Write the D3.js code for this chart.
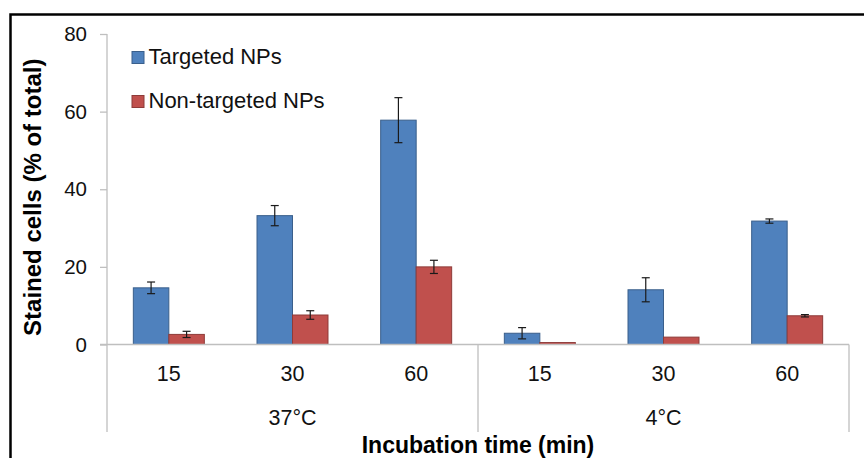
<!DOCTYPE html>
<html>
<head>
<meta charset="utf-8">
<script src="https://d3js.org/d3.v7.min.js"></script>
<style>
  body { margin: 0; background: #fff; }
  svg { display: block; font-family: Arial, "Liberation Sans", sans-serif; }
</style>
</head>
<body>
<div id="chart"></div>
<script>
// data
var groups = ["37°C", "4°C"];
var times = ["15", "30", "60"];
var seriesNames = ["Targeted NPs", "Non-targeted NPs"];
var targeted = [14.6, 33.2, 57.8, 2.9, 14.1, 31.8];
var targetedErr = [1.5, 2.6, 5.8, 1.45, 3.1, 0.55];
var nonTargeted = [2.6, 7.6, 20.0, 0.5, 1.9, 7.4];
var nonTargetedErr = [0.8, 1.1, 1.7, 0, 0, 0.3];
var yTicks = [0, 20, 40, 60, 80];

function BarChart(id){
    var self = this;
    self.sectionId = id;
    self.initVis();
}

BarChart.prototype.initVis = function(){
    var self = this;

    self.svgWidth = 864;
    self.svgHeight = 458;
    self.margin = { top: 34, right: 15, bottom: 113.5, left: 107 };

    self.svg = d3.select(`#${self.sectionId}`)
        .append("svg")
        .attr("width", self.svgWidth)
        .attr("height", self.svgHeight);

    // outer frame (cut off at right and bottom, like the picture)
    self.svg.append("rect")
        .attr("x", 10.5).attr("y", 14.5)
        .attr("width", 1000).attr("height", 1000)
        .attr("fill", "none")
        .attr("stroke", "#000")
        .attr("stroke-width", 2.5);

    var left = self.margin.left;
    var right = self.svgWidth - self.margin.right;
    var top = self.margin.top;
    var bottom = self.svgHeight - self.margin.bottom;

    // one row per bar cluster
    var rows = [];
    groups.forEach(function(g, gi){
        times.forEach(function(t, ti){
            var i = gi * times.length + ti;
            rows.push({ key: g + "|" + t, group: g, time: t,
                values: [ { s: 0, v: targeted[i], e: targetedErr[i] },
                          { s: 1, v: nonTargeted[i], e: nonTargetedErr[i] } ] });
        });
    });

    self.x0 = d3.scaleBand()
        .domain(rows.map(function(d){ return d.key; }))
        .range([left, right]);

    self.x1 = d3.scaleBand()
        .domain([0, 1])
        .range([0, self.x0.bandwidth()])
        .paddingOuter(0.742);

    self.y = d3.scaleLinear()
        .domain([0, 80])
        .range([bottom, top]);

    self.color = d3.scaleOrdinal().domain([0, 1]).range(["#4f81bd", "#c0504d"]);
    self.stroke = d3.scaleOrdinal().domain([0, 1]).range(["#3a5f8b", "#8e3b39"]);

    var axisColor = "#bfbfbf";
    var sepBottom = 432;

    // y axis
    var yAxis = self.svg.append("g")
        .attr("transform", `translate(${left},0)`)
        .call(d3.axisLeft(self.y).tickValues(yTicks).tickSize(7).tickPadding(13));
    yAxis.select(".domain").remove();
    yAxis.selectAll("line").attr("stroke", axisColor).attr("stroke-width", 1.3);
    yAxis.selectAll("text")
        .attr("font-size", 20.5)
        .attr("fill", "#111")
        .attr("font-family", "Arial, 'Liberation Sans', sans-serif");

    self.svg.append("line")
        .attr("x1", left).attr("x2", left)
        .attr("y1", self.y(80)).attr("y2", sepBottom)
        .attr("stroke", axisColor).attr("stroke-width", 1.3);

    // bars
    var cluster = self.svg.selectAll(".cluster")
        .data(rows)
        .join("g")
        .attr("class", "cluster")
        .attr("transform", function(d){ return `translate(${self.x0(d.key)},0)`; });

    cluster.selectAll("rect")
        .data(function(d){ return d.values; })
        .join("rect")
        .attr("x", function(d){ return self.x1(d.s); })
        .attr("width", self.x1.bandwidth())
        .attr("y", function(d){ return self.y(d.v); })
        .attr("height", function(d){ return self.y(0) - self.y(d.v); })
        .attr("fill", function(d){ return self.color(d.s); })
        .attr("stroke", function(d){ return self.stroke(d.s); })
        .attr("stroke-width", 1);

    // error bars
    var err = cluster.selectAll(".err")
        .data(function(d){ return d.values.filter(function(v){ return v.e > 0; }); })
        .join("g")
        .attr("class", "err")
        .attr("transform", function(d){ return `translate(${self.x1(d.s) + self.x1.bandwidth() / 2},0)`; })
        .attr("stroke", "#1a1a1a")
        .attr("stroke-width", 1.2);
    err.append("line")
        .attr("y1", function(d){ return self.y(d.v + d.e); })
        .attr("y2", function(d){ return self.y(d.v - d.e); });
    err.append("line")
        .attr("x1", -4).attr("x2", 4)
        .attr("y1", function(d){ return self.y(d.v + d.e); })
        .attr("y2", function(d){ return self.y(d.v + d.e); });
    err.append("line")
        .attr("x1", -4).attr("x2", 4)
        .attr("y1", function(d){ return self.y(d.v - d.e); })
        .attr("y2", function(d){ return self.y(d.v - d.e); });

    // x axis baseline
    self.svg.append("line")
        .attr("x1", left - 7).attr("x2", right)
        .attr("y1", self.y(0)).attr("y2", self.y(0))
        .attr("stroke", axisColor).attr("stroke-width", 1.3);

    // group separators
    var sepX = [self.x0(rows[times.length].key), right];
    self.svg.selectAll(".sep")
        .data(sepX)
        .join("line")
        .attr("class", "sep")
        .attr("x1", function(d){ return d; }).attr("x2", function(d){ return d; })
        .attr("y1", self.y(0)).attr("y2", sepBottom)
        .attr("stroke", axisColor).attr("stroke-width", 1.3);

    // time labels
    self.svg.selectAll(".tlabel")
        .data(rows)
        .join("text")
        .attr("class", "tlabel")
        .attr("x", function(d){ return self.x0(d.key) + self.x0.bandwidth() / 2; })
        .attr("y", 381)
        .attr("text-anchor", "middle")
        .attr("font-size", 21.5)
        .attr("fill", "#111")
        .text(function(d){ return d.time; });

    // group labels
    self.svg.selectAll(".glabel")
        .data(groups)
        .join("text")
        .attr("class", "glabel")
        .attr("x", function(g){
            var first = self.x0(g + "|" + times[0]);
            var last = self.x0(g + "|" + times[times.length - 1]) + self.x0.bandwidth();
            return (first + last) / 2;
        })
        .attr("y", 425)
        .attr("text-anchor", "middle")
        .attr("font-size", 21.5)
        .attr("fill", "#111")
        .text(function(g){ return g; });

    // axis titles
    self.svg.append("text")
        .attr("x", (left + right) / 2)
        .attr("y", 453)
        .attr("text-anchor", "middle")
        .attr("font-size", 23)
        .attr("font-weight", "bold")
        .text("Incubation time (min)");

    self.svg.append("text")
        .attr("transform", `translate(41,${(top + bottom) / 2 + 8}) rotate(-90)`)
        .attr("text-anchor", "middle")
        .attr("font-size", 24)
        .attr("font-weight", "bold")
        .text("Stained cells (% of total)");

    // legend
    var legend = self.svg.selectAll(".legend")
        .data(seriesNames)
        .join("g")
        .attr("class", "legend")
        .attr("transform", function(d, i){ return `translate(132,${51.5 + i * 44})`; });
    legend.append("rect")
        .attr("width", 12).attr("height", 12)
        .attr("fill", function(d, i){ return self.color(i); })
        .attr("stroke", function(d, i){ return self.stroke(i); })
        .attr("stroke-width", 1);
    legend.append("text")
        .attr("x", 16.5)
        .attr("y", 12.5)
        .attr("font-size", 22)
        .attr("fill", "#111")
        .text(function(d){ return d; });
}

var chart = new BarChart("chart");
</script>
</body>
</html>
